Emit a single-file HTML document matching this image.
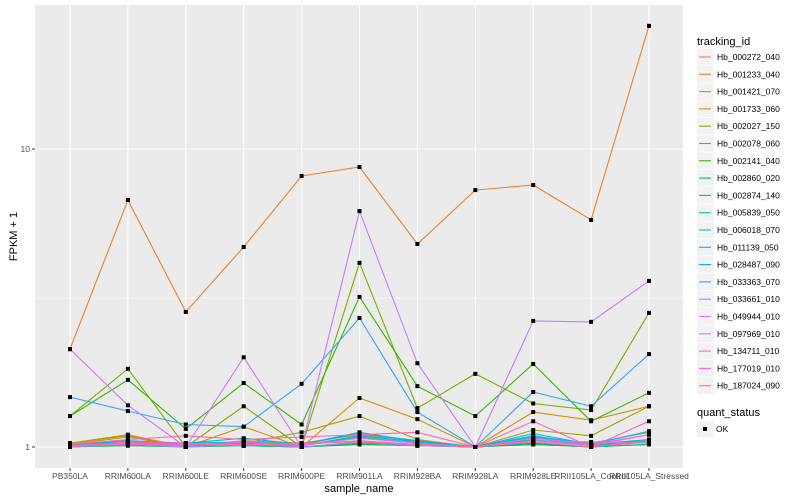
<!DOCTYPE html>
<html><head><meta charset="utf-8"><style>
body{margin:0;background:#fff;}
svg{display:block;font-family:"Liberation Sans",sans-serif;}
</style></head><body>
<svg id="chart" width="800" height="500"></svg>
<script>
const categories=["PB350LA","RRIM600LA","RRIM600LE","RRIM600SE","RRIM600PE","RRIM901LA","RRIM928BA","RRIM928LA","RRIM928LE","RRII105LA_Control","RRII105LA_Stressed"];
const seriesNames=["Hb_000272_040","Hb_001233_040","Hb_001421_070","Hb_001733_060","Hb_002027_150","Hb_002078_060","Hb_002141_040","Hb_002860_020","Hb_002874_140","Hb_005839_050","Hb_006018_070","Hb_011139_050","Hb_028487_090","Hb_033363_070","Hb_033661_010","Hb_049944_010","Hb_097969_010","Hb_134711_010","Hb_177019_010","Hb_187024_090"];
const seriesColors=["#F8766D","#EA8331","#D89000","#C09B00","#A3A500","#7CAE00","#39B600","#00BB4E","#00BF7D","#00C1A3","#00BFC4","#00BAE0","#00B0F6","#35A2FF","#9590FF","#C77CFF","#E76BF3","#FA62DB","#FF62BC","#FF6C91"];
const s00=[1.01,1.04,1.02,1.01,1.00,1.02,1.01,1.00,1.02,1.00,1.04];
const s01=[2.13,6.74,2.84,4.69,8.12,8.70,4.80,7.28,7.57,5.78,25.9];
const s02=[1.03,1.10,1.00,1.17,1.00,1.46,1.24,1.00,1.31,1.23,1.37];
const s03=[1.02,1.08,1.00,1.05,1.03,1.10,1.05,1.00,1.08,1.03,1.12];
const s04=[1.03,1.09,1.00,1.03,1.12,1.27,1.06,1.00,1.14,1.09,1.37];
const s05=[1.27,1.83,1.00,1.37,1.00,4.15,1.35,1.76,1.40,1.33,2.82];
const s06=[1.27,1.68,1.15,1.64,1.19,3.19,1.60,1.27,1.90,1.22,1.52];
const s07=[1.00,1.01,1.00,1.01,1.00,1.02,1.01,1.00,1.02,1.00,1.02];
const s08=[1.00,1.02,1.01,1.01,1.00,1.03,1.02,1.00,1.03,1.00,1.02];
const s09=[1.01,1.03,1.02,1.02,1.01,1.08,1.03,1.00,1.06,1.01,1.05];
const s10=[1.02,1.04,1.03,1.07,1.02,1.11,1.05,1.00,1.09,1.02,1.06];
const s11=[1.01,1.03,1.02,1.03,1.01,1.09,1.04,1.00,1.08,1.01,1.06];
const s12=[1.02,1.05,1.03,1.04,1.02,1.12,1.04,1.00,1.11,1.02,1.13];
const s13=[1.47,1.32,1.19,1.17,1.63,2.71,1.31,1.00,1.53,1.37,2.05];
const s14=[1.00,1.02,1.00,1.02,1.00,1.04,1.01,1.00,1.05,1.04,1.03];
const s15=[2.13,1.38,1.00,2.00,1.00,6.19,1.91,1.00,2.65,2.63,3.61];
const s16=[1.01,1.03,1.01,1.04,1.01,1.07,1.03,1.00,1.07,1.02,1.10];
const s17=[1.01,1.02,1.02,1.02,1.02,1.05,1.02,1.00,1.05,1.01,1.10];
const s18=[1.02,1.06,1.09,1.06,1.08,1.10,1.12,1.00,1.22,1.00,1.22];
const s19=[1.00,1.04,1.03,1.01,1.03,1.04,1.02,1.00,1.04,1.00,1.05];
const seriesValues=[s00,s01,s02,s03,s04,s05,s06,s07,s08,s09,s10,s11,s12,s13,s14,s15,s16,s17,s18,s19];
const yTicks=[1,10];
const yTickLabels=["1","10"];

const NS="http://www.w3.org/2000/svg";
const svg=document.getElementById("chart");
const P={l:35,r:683,t:5,b:468};
const x0=70,dx=57.9;
function xs(i){return x0+i*dx;}
function ys(v){return 447-298*Math.log10(v);}
function mk(tag,attrs,parent){const e=document.createElementNS(NS,tag);for(const k in attrs)e.setAttribute(k,attrs[k]);(parent||svg).appendChild(e);return e;}

const panel=mk("rect",{x:P.l,y:P.t,width:P.r-P.l,height:P.b-P.t,fill:"#EBEBEB"});


// minor y grid
[Math.sqrt(10),Math.sqrt(1000)].forEach(v=>{const y=ys(v);if(y>P.t&&y<P.b)mk("line",{x1:P.l,x2:P.r,y1:y,y2:y,stroke:"#fff","stroke-width":0.55});});
yTicks.forEach((v,i)=>{
  const y=ys(v);
  const g=mk("line",{x1:P.l,x2:P.r,y1:y,y2:y,stroke:"#fff","stroke-width":1.1});
  
  
  mk("line",{x1:P.l-3,x2:P.l,y1:y,y2:y,stroke:"#333","stroke-width":1});
  const t=mk("text",{x:P.l-5,y:y+3,"text-anchor":"end","font-size":"8.5",fill:"#4D4D4D"});
  t.textContent=yTickLabels[i];
  
  
});
categories.forEach((c,i)=>{
  const x=xs(i);
  const g=mk("line",{x1:x,x2:x,y1:P.t,y2:P.b,stroke:"#fff","stroke-width":1.1});
  
  
  mk("line",{x1:x,x2:x,y1:P.b,y2:P.b+3,stroke:"#333","stroke-width":1});
  const t=mk("text",{x:x,y:P.b+11,"text-anchor":"middle","font-size":"8.5",fill:"#4D4D4D"});
  t.textContent=c;
  
  
});
seriesValues.forEach((vals,si)=>{
  const pts=vals.map((v,i)=>xs(i).toFixed(1)+","+ys(v).toFixed(1)).join(" ");
  const pl=mk("polyline",{points:pts,fill:"none",stroke:seriesColors[si],"stroke-width":1.1});
  
  
});
seriesValues.forEach((vals)=>{
  vals.forEach((v,i)=>{
    const r=mk("rect",{x:xs(i)-2,y:ys(v)-2,width:4,height:4,fill:"#000"});
    
    
  });
});
// axis titles
let t=mk("text",{x:(P.l+P.r)/2,y:492,"text-anchor":"middle","font-size":"11",fill:"#000"});
t.textContent="sample_name";


t=mk("text",{x:0,y:0,"text-anchor":"middle","font-size":"11",fill:"#000",transform:"translate(17,"+((P.t+P.b)/2)+") rotate(-90)"});
t.textContent="FPKM + 1";


// legend
t=mk("text",{x:697,y:45,"font-size":"11",fill:"#000"});
t.textContent="tracking_id";


seriesNames.forEach((n,i)=>{
  const cy=57+i*17.3;
  const g=mk("g",{});
  
  
  mk("rect",{x:697,y:cy-8.3,width:16.5,height:16.5,fill:"#F2F2F2"},g);
  mk("line",{x1:699,x2:711,y1:cy,y2:cy,stroke:seriesColors[i],"stroke-width":1.1},g);
  const tt=mk("text",{x:717,y:cy+3,"font-size":"8.5",fill:"#000"},g);
  tt.textContent=n;
});
t=mk("text",{x:697,y:416,"font-size":"11",fill:"#000"});
t.textContent="quant_status";


const g2=mk("g",{});


mk("rect",{x:697,y:421,width:16.5,height:16.5,fill:"#F2F2F2"},g2);
mk("rect",{x:703,y:427,width:4,height:4,fill:"#000"},g2);
const ok=mk("text",{x:716,y:432,"font-size":"8.5",fill:"#000"},g2);
ok.textContent="OK";
</script>
</body></html>
